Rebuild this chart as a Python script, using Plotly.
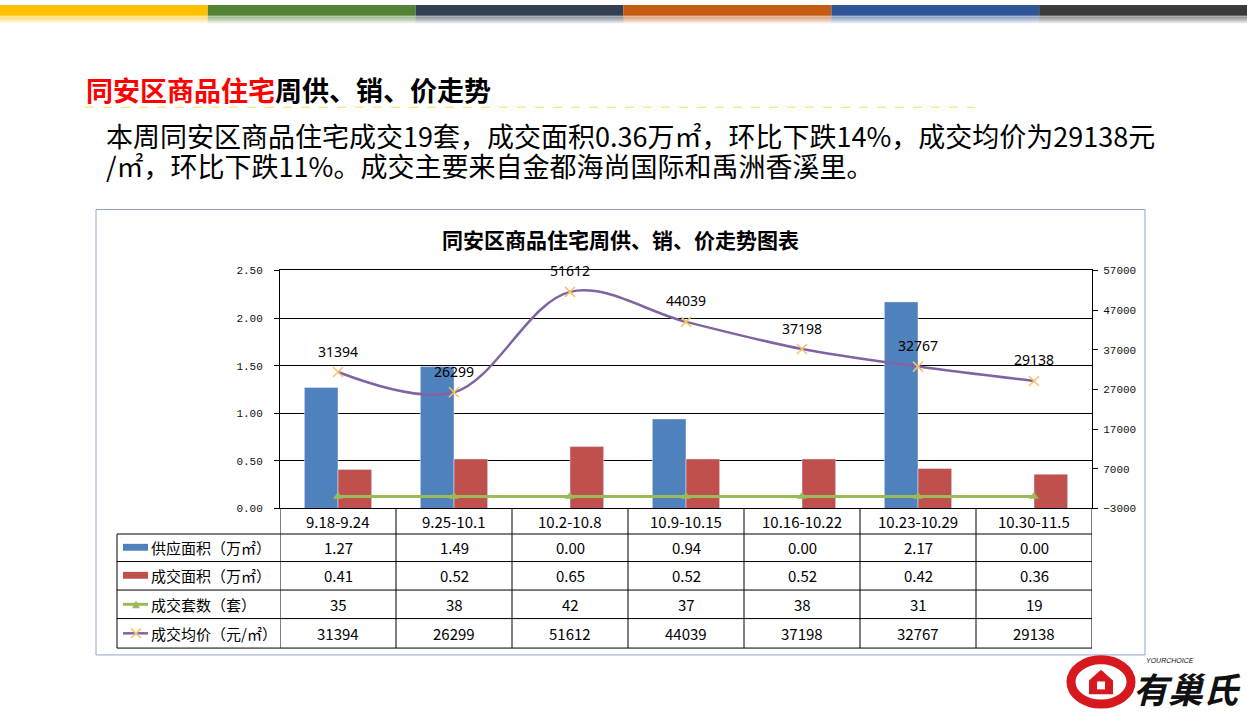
import plotly.graph_objects as go

W, H = 1247, 718

# data
weeks = ["9.18-9.24", "9.25-10.1", "10.2-10.8", "10.9-10.15", "10.16-10.22", "10.23-10.29", "10.30-11.5"]
supply_area = [1.27, 1.49, 0.00, 0.94, 0.00, 2.17, 0.00]
deal_area = [0.41, 0.52, 0.65, 0.52, 0.52, 0.42, 0.36]
deal_units = [35, 38, 42, 37, 38, 31, 19]
avg_price = [31394, 26299, 51612, 44039, 37198, 32767, 29138]
series_names = ["供应面积（万㎡）", "成交面积（万㎡）", "成交套数（套）", "成交均价（元/㎡）"]

title_red = "同安区商品住宅"
title_black = "周供、销、价走势"
body_lines = ["本周同安区商品住宅成交19套，成交面积0.36万㎡，环比下跌14%，成交均价为29138元",
              "/㎡，环比下跌11%。成交主要来自金都海尚国际和禹洲香溪里。"]
chart_title = "同安区商品住宅周供、销、价走势图表"

BLUE, RED, GREEN, PURPLE, XCOL = "#4F81BD", "#C0504D", "#9BBB59", "#8064A2", "#F5C36A"
CJK = "Noto Sans CJK SC"


def px(x):
    return x / W


def py(y):
    return 1 - y / H


fig = go.Figure()
fig.add_trace(go.Bar(x=weeks, y=supply_area, name=series_names[0], marker_color=BLUE))
fig.add_trace(go.Bar(x=weeks, y=deal_area, name=series_names[1], marker_color=RED))
fig.add_trace(go.Scatter(x=weeks, y=deal_units, name=series_names[2], yaxis="y2", mode="lines+markers",
                         line=dict(color=GREEN, width=3),
                         marker=dict(symbol="triangle-up", size=9, color=GREEN)))
fig.add_trace(go.Scatter(x=weeks, y=avg_price, name=series_names[3], yaxis="y2", mode="lines+markers",
                         line=dict(color=PURPLE, width=2.5, shape="spline", smoothing=1.0),
                         marker=dict(symbol="x-thin", size=10, line=dict(color=XCOL, width=1.5))))

shapes = []
annotations = []

# top colour strip
strip = ["#FFC000", "#548235", "#333F50", "#C55A11", "#2F5597", "#3A3A3A"]
for i, c in enumerate(strip):
    shapes.append(dict(type="rect", xref="paper", yref="paper", x0=px(i * W / 6), x1=px((i + 1) * W / 6),
                       y0=py(11), y1=py(0), fillcolor=c, line_width=0, layer="below"))
    for k in range(7):
        shapes.append(dict(type="rect", xref="paper", yref="paper", x0=px(i * W / 6), x1=px((i + 1) * W / 6),
                           y0=py(12 + k + 1), y1=py(11 + k), fillcolor=c, opacity=0.35 * (1 - k / 7),
                           line_width=0, layer="below"))

# slide heading
annotations.append(dict(xref="paper", yref="paper", x=px(84), y=py(86), xanchor="left", yanchor="middle",
                        showarrow=False,
                        text="<b><span style='color:#FF0000'>%s</span>%s</b>" % (title_red, title_black),
                        font=dict(family=CJK, size=27, color="#000000")))
shapes.append(dict(type="line", xref="paper", yref="paper", x0=px(85), x1=px(975), y0=py(104), y1=py(104),
                   line=dict(color="#FFD966", width=1, dash="dash")))
for i, t in enumerate(body_lines):
    annotations.append(dict(xref="paper", yref="paper", x=px(104), y=py(133 + 30 * i), xanchor="left",
                            yanchor="middle", showarrow=False, text=t,
                            font=dict(family=CJK, size=27, color="#000000")))

# chart frame
shapes.append(dict(type="rect", xref="paper", yref="paper", x0=px(96), x1=px(1145), y0=py(661), y1=py(208),
                   line=dict(color="#8EA4C8", width=1), layer="below"))
annotations.append(dict(xref="paper", yref="paper", x=px(620), y=py(238), xanchor="center", yanchor="middle",
                        showarrow=False, text="<b>%s</b>" % chart_title,
                        font=dict(family=CJK, size=21, color="#000000")))

# price labels
for w, p in zip(weeks, avg_price):
    annotations.append(dict(x=w, y=p, xref="x", yref="y2", yshift=21, showarrow=False, text=str(p),
                            font=dict(family="Noto Sans", size=14, color="#000000")))

# data table
row_y = [538, 566, 595, 624, 654]
for y in row_y:
    shapes.append(dict(type="line", xref="paper", yref="paper", x0=px(117), x1=px(1092), y0=py(y), y1=py(y),
                       line=dict(color="#000000", width=1)))
shapes.append(dict(type="line", xref="paper", yref="paper", x0=px(117), x1=px(117), y0=py(538), y1=py(654),
                   line=dict(color="#000000", width=1)))
for i in range(len(weeks) + 1):
    shapes.append(dict(type="line", xref="x", yref="paper", x0=i - 0.5, x1=i - 0.5, y0=py(512), y1=py(654),
                       line=dict(color="#000000", width=1)))

cell_font = dict(family=CJK, size=15, color="#000000")
for w in weeks:
    annotations.append(dict(x=w, xref="x", yref="paper", y=py(525), xanchor="center", yanchor="middle",
                            showarrow=False, text=w, font=cell_font))
rows = [["%.2f" % v for v in supply_area], ["%.2f" % v for v in deal_area],
        [str(v) for v in deal_units], [str(v) for v in avg_price]]
for r, vals in enumerate(rows):
    yc = (row_y[r] + row_y[r + 1]) / 2
    for w, v in zip(weeks, vals):
        annotations.append(dict(x=w, xref="x", yref="paper", y=py(yc), xanchor="center", yanchor="middle",
                                showarrow=False, text=v, font=cell_font))
    annotations.append(dict(xref="paper", yref="paper", x=px(149), y=py(yc), xanchor="left", yanchor="middle",
                            showarrow=False, text=series_names[r],
                            font=dict(family=CJK, size=15, color="#000000")))

# legend keys in the table
for r, c in enumerate([BLUE, RED]):
    yc = (row_y[r] + row_y[r + 1]) / 2
    shapes.append(dict(type="rect", xref="paper", yref="paper", x0=px(123), x1=px(148), y0=py(yc + 3),
                       y1=py(yc - 4), fillcolor=c, line_width=0))
yc = (row_y[2] + row_y[3]) / 2
shapes.append(dict(type="line", xref="paper", yref="paper", x0=px(123), x1=px(148), y0=py(yc), y1=py(yc),
                   line=dict(color=GREEN, width=3)))
shapes.append(dict(type="path", xref="paper", yref="paper", fillcolor=GREEN, line_width=0,
                   path="M %f %f L %f %f L %f %f Z" % (px(132), py(yc + 4), px(140), py(yc + 4), px(136), py(yc - 4))))
yc = (row_y[3] + row_y[4]) / 2
shapes.append(dict(type="line", xref="paper", yref="paper", x0=px(123), x1=px(148), y0=py(yc), y1=py(yc),
                   line=dict(color=PURPLE, width=2.5)))
for d in (1, -1):
    shapes.append(dict(type="line", xref="paper", yref="paper", x0=px(131), x1=px(141), y0=py(yc - 5 * d),
                       y1=py(yc + 5 * d), line=dict(color=XCOL, width=1.5)))

# logo (rough)
shapes.append(dict(type="circle", xref="paper", yref="paper", x0=px(1071), x1=px(1131), y0=py(711), y1=py(666),
                   line=dict(color="#D7191F", width=9)))
shapes.append(dict(type="path", xref="paper", yref="paper", fillcolor="#D7191F", line_width=0,
                   path="M %f %f L %f %f L %f %f L %f %f L %f %f Z" % (
                       px(1089), py(701), px(1089), py(687), px(1101), py(676), px(1113), py(687),
                       px(1113), py(701))))
shapes.append(dict(type="rect", xref="paper", yref="paper", x0=px(1097), x1=px(1105), y0=py(696), y1=py(688),
                   fillcolor="white", line_width=0))
annotations.append(dict(xref="paper", yref="paper", x=px(1187), y=py(694), xanchor="center", yanchor="middle",
                        showarrow=False, text="<b><i>有巢氏</i></b>",
                        font=dict(family=CJK, size=35, color="#111111")))
annotations.append(dict(xref="paper", yref="paper", x=px(1170), y=py(667), xanchor="center", yanchor="middle",
                        showarrow=False, text="<i>YOURCHOICE</i>",
                        font=dict(family="Liberation Sans", size=7, color="#111111")))

tick_font = dict(family="Liberation Mono", size=11, color="#111111")
fig.update_layout(
    width=W, height=H, margin=dict(l=0, r=0, t=0, b=0),
    paper_bgcolor="white", plot_bgcolor="white", showlegend=False,
    barmode="group", bargap=0.42, bargroupgap=0,
    xaxis=dict(domain=[px(280), px(1092)], range=[-0.5, 6.5], showticklabels=False, ticks="",
               showline=True, mirror=True, linecolor="#000000", linewidth=1, showgrid=False),
    yaxis=dict(domain=[py(512), py(270)], range=[0, 2.5], dtick=0.5, tickformat=".2f",
               showgrid=True, gridcolor="#000000", gridwidth=1, zeroline=False,
               showline=True, linecolor="#000000", ticks="outside", ticklen=5, tickcolor="#000000",
               tickfont=tick_font, ticklabelstandoff=9),
    yaxis2=dict(overlaying="y", side="right", range=[-3000, 57000], dtick=10000, tick0=-3000,
                tickformat="d", showgrid=False, zeroline=False, showline=True, linecolor="#000000",
                ticks="outside", ticklen=5, tickcolor="#000000", tickfont=tick_font, ticklabelstandoff=3),
    shapes=shapes, annotations=annotations,
)

fig.write_html("out.html", config={"displayModeBar": False},
               post_script="document.documentElement.style.margin='0';document.body.style.margin='0';")
